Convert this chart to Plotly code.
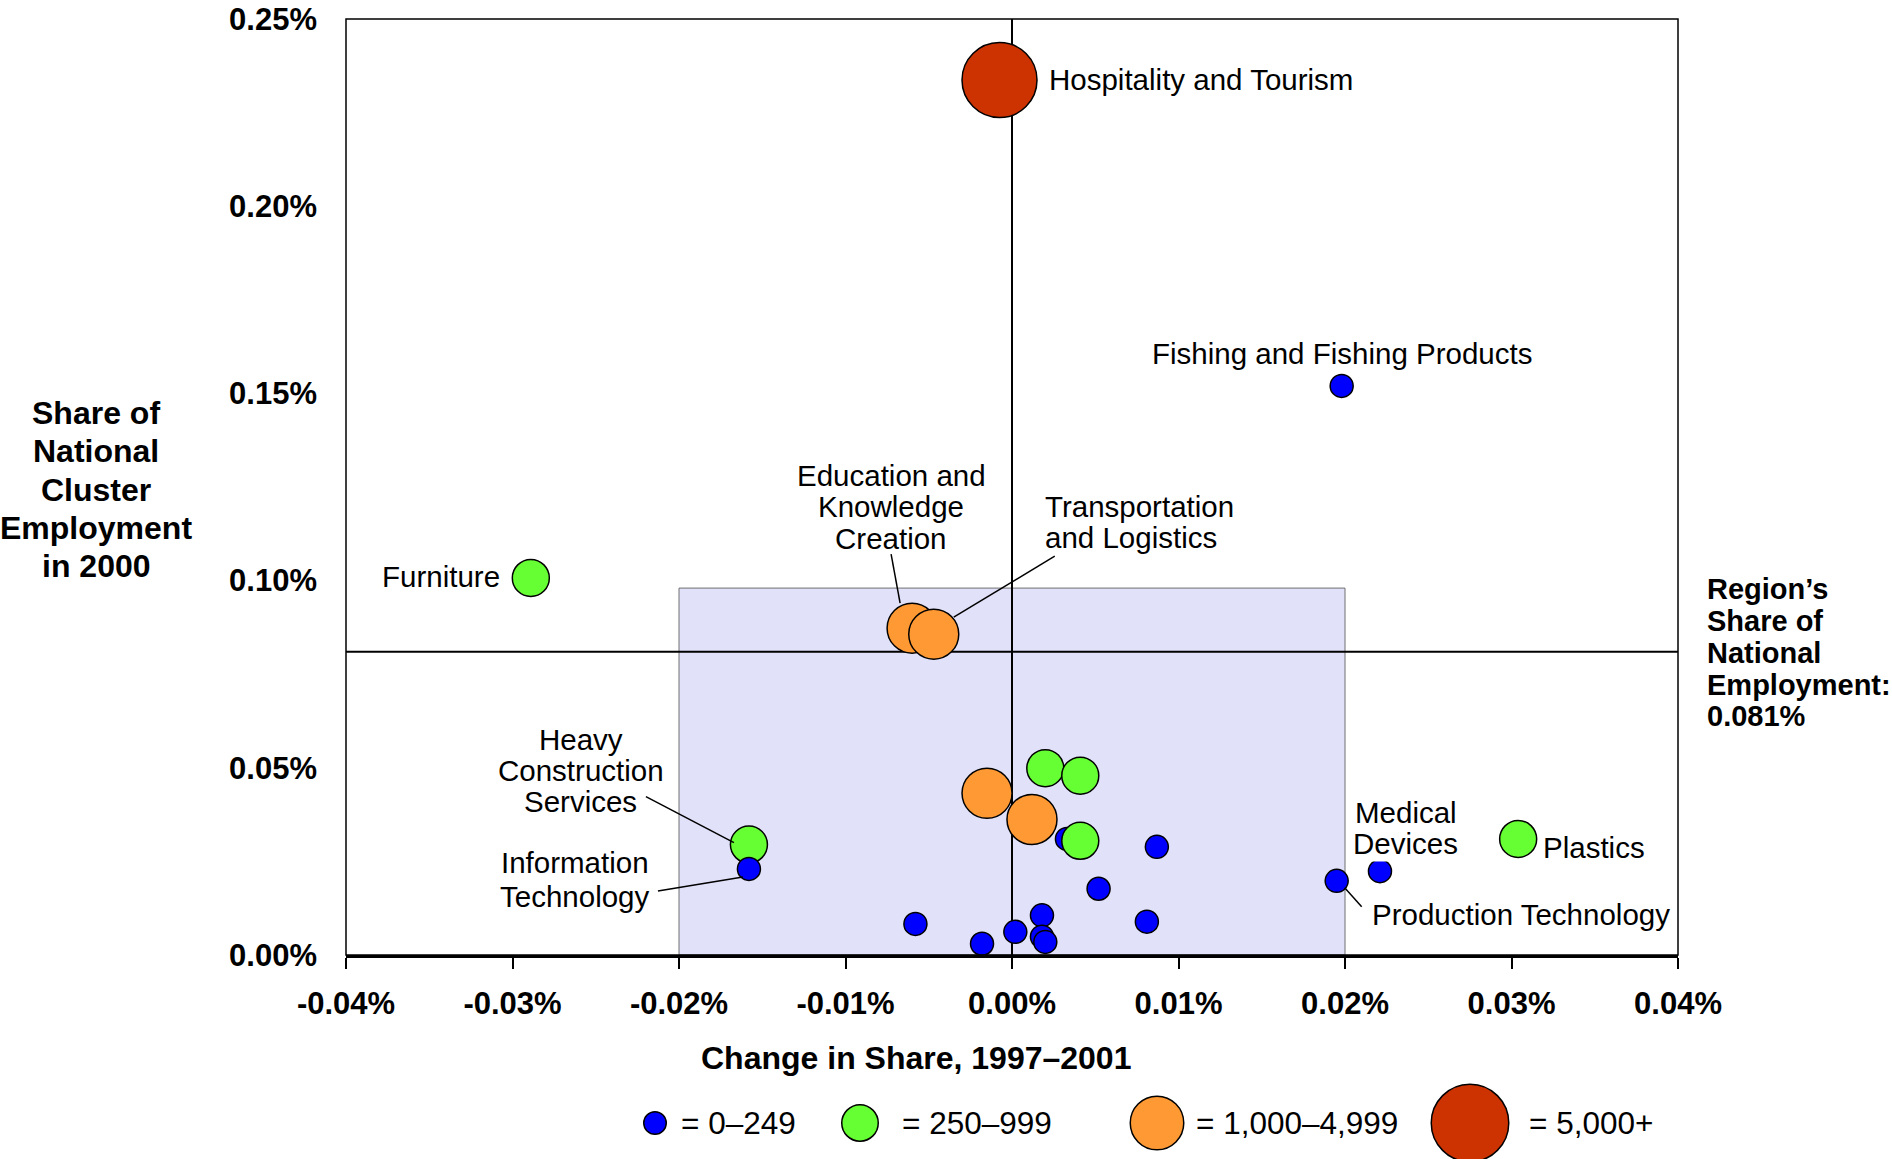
import plotly.graph_objects as go

# cluster data, values in percent
clusters = ["Hospitality and Tourism", "Fishing and Fishing Products", "Furniture",
            "Education and Knowledge Creation", "Transportation and Logistics",
            "Heavy Construction Services", "Information Technology",
            "Medical Devices", "Plastics", "Production Technology",
            "", "", "", "", "", "", "", "", "", "", "", "", "", "", ""]
change_share = [-0.00075, 0.0198, -0.0289,
                -0.0060, -0.0047,
                -0.0158, -0.0158,
                0.0221, 0.0304, 0.0195,
                -0.0015, 0.0012, 0.0020, 0.0041, 0.0033, 0.0041, 0.0087,
                0.0052, 0.0018, 0.0002, -0.0018, -0.0058, 0.0081, 0.0018, 0.0020]
share_2000 = [0.2337, 0.1520, 0.1007,
              0.0873, 0.0857,
              0.0295, 0.0230,
              0.0224, 0.0310, 0.0198,
              0.0432, 0.0362, 0.0499, 0.0479, 0.0310, 0.0305, 0.0289,
              0.0177, 0.0106, 0.0062, 0.0030, 0.0083, 0.0089, 0.0049, 0.0035]
emp_class = [3, 0, 1,
             2, 2,
             1, 0,
             0, 1, 0,
             2, 2, 1, 1, 0, 1, 0, 0, 0, 0, 0, 0, 0, 0, 0]

size_classes = ["= 0–249", "= 250–999", "= 1,000–4,999", "= 5,000+"]
region_share = 0.081
box_x = [-0.02, 0.02]
box_top = 0.098

x_ticks = [-0.04, -0.03, -0.02, -0.01, 0.0, 0.01, 0.02, 0.03, 0.04]
x_tick_labels = ["-0.04%", "-0.03%", "-0.02%", "-0.01%", "0.00%", "0.01%", "0.02%", "0.03%", "0.04%"]
y_ticks = [0.0, 0.05, 0.10, 0.15, 0.20, 0.25]
y_tick_labels = ["0.00%", "0.05%", "0.10%", "0.15%", "0.20%", "0.25%"]

# styles
class_colors = ["#0000FF", "#66FF33", "#FF9933", "#CC3300"]
marker_sizes = [23, 37, 50, 75]
legend_sizes = [24, 38, 55, 79]
FONT = "Arial, Liberation Sans, sans-serif"

W, H = 1892, 1159
L, T = 346, 19
R, B = W - 1678, H - 955


def px_x(px):
    return (px - L) / (W - L - R)


def px_y(py):
    return (H - B - py) / (H - T - B)


# label placement: pixel offsets from the bubble (y up), lines, anchor, leader
label_spec = {
    "Hospitality and Tourism": (47, [1], "left", None),
    "Fishing and Fishing Products": (0, [32], "center", None),
    "Furniture": (-29, [1], "right", None),
    "Education and Knowledge Creation": (-21, [153, 121.5, 90], "center", (-21, 74, -12, 25)),
    "Transportation and Logistics": (109, [128, 97], "left", (121, 78, 20, 17)),
    "Heavy Construction Services": (-168, [105, 74, 43], "center", (-103, 48, -15, 2)),
    "Information Technology": (-174, [6, -27.5], "center", (-91, -22, -6, -8)),
    "Medical Devices": (26, [59, 27.5], "center", None),
    "Plastics": (23, [-9], "left", None),
    "Production Technology": (33, [-34], "left", (8, -7, 25, -26)),
}
label_lines = {
    "Education and Knowledge Creation": ["Education and", "Knowledge", "Creation"],
    "Transportation and Logistics": ["Transportation", "and Logistics"],
    "Heavy Construction Services": ["Heavy", "Construction", "Services"],
    "Information Technology": ["Information", "Technology"],
    "Medical Devices": ["Medical", "Devices"],
}

fig = go.Figure()

fig.add_trace(go.Scatter(
    x=change_share, y=share_2000, mode="markers",
    text=clusters,
    marker=dict(color=[class_colors[c] for c in emp_class],
                size=[marker_sizes[c] for c in emp_class],
                opacity=1,
                line=dict(color="black", width=1.5)),
    showlegend=False, hoverinfo="x+y+text"))

shapes = []
# shaded box
shapes.append(dict(type="rect", xref="x", yref="y", x0=box_x[0], x1=box_x[1], y0=0, y1=box_top,
                   fillcolor="#E1E1FA", line=dict(color="#707070", width=1), layer="below"))
# region share line
shapes.append(dict(type="line", xref="x", yref="y", x0=-0.0402, x1=0.04, y0=region_share, y1=region_share,
                   line=dict(color="black", width=2), layer="between"))
# frame
shapes.append(dict(type="rect", xref="paper", yref="paper", x0=0, x1=1, y0=0, y1=1,
                   line=dict(color="black", width=1.5), layer="above"))

annotations = []
for i, name in enumerate(clusters):
    if name not in label_spec:
        continue
    dx, dys, anchor, leader = label_spec[name]
    lines = label_lines.get(name, [name])
    for line, dy in zip(lines, dys):
        annotations.append(dict(
            x=change_share[i], y=share_2000[i], xref="x", yref="y",
            text=line, showarrow=False, xanchor=anchor, yanchor="middle",
            xshift=dx, yshift=dy,
            bgcolor="white" if name == "Medical Devices" else None,
            font=dict(family=FONT, size=29.5, color="black")))
    if leader:
        shapes.append(dict(type="line", xref="x", yref="y",
                           xsizemode="pixel", ysizemode="pixel",
                           xanchor=change_share[i], yanchor=share_2000[i],
                           x0=leader[0], y0=leader[1], x1=leader[2], y1=leader[3],
                           line=dict(color="black", width=1.5), layer="above"))

# y axis title
for line, py in zip(["Share of", "National", "Cluster", "Employment", "in 2000"],
                    [413, 451, 490, 528, 566]):
    annotations.append(dict(x=px_x(96), y=px_y(py), xref="paper", yref="paper", text="<b>%s</b>" % line,
                            showarrow=False, xanchor="center", yanchor="middle",
                            font=dict(family=FONT, size=32, color="black")))

# region share note
for line, py in zip(["Region’s", "Share of", "National", "Employment:", "%.3f%%" % region_share],
                    [589, 621, 653, 684.5, 716]):
    annotations.append(dict(x=px_x(1705), y=px_y(py), xref="paper", yref="paper", text="<b>%s</b>" % line,
                            showarrow=False, xanchor="left", yanchor="middle",
                            font=dict(family=FONT, size=29, color="black")))

# x axis title
annotations.append(dict(x=px_x(916), y=px_y(1058), xref="paper", yref="paper",
                        text="<b>Change in Share, 1997–2001</b>", showarrow=False,
                        xanchor="center", yanchor="middle",
                        font=dict(family=FONT, size=32, color="black")))

# size legend
legend_cx = [655, 860, 1157, 1470]
legend_tx = [679, 900, 1194, 1527]
for k, lab in enumerate(size_classes):
    r = (legend_sizes[k] - 1.5) / 2
    shapes.append(dict(type="circle", xref="paper", yref="paper",
                       xsizemode="pixel", ysizemode="pixel",
                       xanchor=px_x(legend_cx[k]), yanchor=px_y(1123),
                       x0=-r, x1=r, y0=-r, y1=r,
                       fillcolor=class_colors[k], line=dict(color="black", width=1.5)))
    annotations.append(dict(x=px_x(legend_tx[k]), y=px_y(1123), xref="paper", yref="paper",
                            text=lab, showarrow=False, xanchor="left", yanchor="middle",
                            font=dict(family=FONT, size=31.5, color="black")))

fig.update_layout(
    width=W, height=H,
    margin=dict(l=L, r=R, t=T, b=B, autoexpand=False),
    plot_bgcolor="white", paper_bgcolor="white",
    shapes=shapes, annotations=annotations,
    xaxis=dict(range=[-0.04, 0.04], tickvals=x_ticks, ticktext=x_tick_labels,
               automargin=False, ticklabeloverflow="allow",
               showgrid=False, zeroline=True, zerolinecolor="black", zerolinewidth=1.5,
               showline=True, linecolor="black", linewidth=3,
               ticks="outside", ticklen=11, tickwidth=1.5, tickcolor="black",
               ticklabelstandoff=8,
               tickfont=dict(family=FONT, size=31, color="black", weight="bold")),
    yaxis=dict(range=[0, 0.25], tickvals=y_ticks, ticktext=y_tick_labels,
               automargin=False, ticklabeloverflow="allow",
               showgrid=False, zeroline=False, showline=False,
               ticks="", ticklabelstandoff=28,
               tickfont=dict(family=FONT, size=31, color="black", weight="bold")),
)

# drop the default page margin so the figure fills the window
fig.write_html("out.html", config={"displayModeBar": False},
               post_script="document.body.style.margin = '0';")
